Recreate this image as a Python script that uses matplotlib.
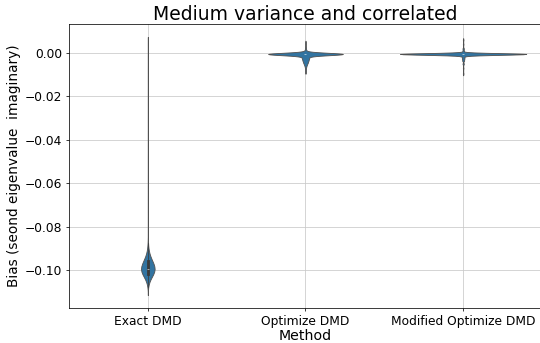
import numpy as np
import pandas as pd
import seaborn as sns
import matplotlib
matplotlib.use("Agg")
from matplotlib import pyplot as plt


methods = ["Exact DMD", "Optimize DMD", "Modified Optimize DMD"]

# Bias samples, stored as (value, how many runs)
exact_values = [-0.1075, -0.1055, -0.1035, -0.1015, -0.0995, -0.0975, -0.0955,
                -0.0935, -0.0915, -0.0895, -0.0875, -0.085, -0.08, -0.07,
                -0.06, -0.05, -0.04, -0.03, -0.02, -0.01, 0.0, 0.0035]
exact_counts = [8, 30, 90, 190, 240, 200, 130, 70, 30, 14, 7, 4, 2, 1,
                1, 1, 1, 1, 1, 1, 1, 1]

optimize_values = [0.0045, 0.0025, 0.0015, 0.0005, -0.0005, -0.0015, -0.0025,
                   -0.0035, -0.0045, -0.0055, -0.0065, -0.0075, -0.0085]
optimize_counts = [1, 1, 2, 3, 150, 10, 11, 9, 7, 4, 2, 1, 1]

modified_values = [0.006, 0.004, 0.002, 0.001, -0.0005, -0.0015, -0.0025,
                   -0.0035, -0.005, -0.007, -0.0095]
modified_counts = [1, 1, 2, 2, 200, 4, 4, 3, 2, 1, 1]


# Expand (value, count) pairs into one long table for seaborn
def build_frame():
    rows = []
    groups = [(exact_values, exact_counts),
              (optimize_values, optimize_counts),
              (modified_values, modified_counts)]
    for name, (vals, counts) in zip(methods, groups):
        for v, c in zip(vals, counts):
            rows += [[name, v]] * c
    return pd.DataFrame(rows, columns=["Method", "Bias"])


df = build_frame()

# drawn as an 8in wide figure, saved small (everything scales down with it)
DPI = 67.5
fig = plt.figure(figsize=(540 / DPI, 343 / DPI), dpi=DPI)
ax = fig.add_axes([69 / 540, 1 - 308 / 343, 473 / 540, 284 / 343])

sns.violinplot(data=df, x="Method", y="Bias", order=methods, ax=ax,
               linewidth=0.9, linecolor="#505050",
               inner_kws=dict(box_width=3, whis_width=0.8, color="#3a3a3a"))
ax.grid(True, color="#c8c8c8")
ax.set_axisbelow(True)
ax.spines["right"].set_visible(False)

ax.set_title("Medium variance and correlated", fontsize=20, pad=3)
ax.set_xlabel("Method", fontsize=15, labelpad=1)
ax.set_ylabel("Bias (seond eigenvalue  imaginary)", fontsize=14.5)
ax.tick_params(labelsize=13)

fig.savefig("out.png", dpi=DPI)
